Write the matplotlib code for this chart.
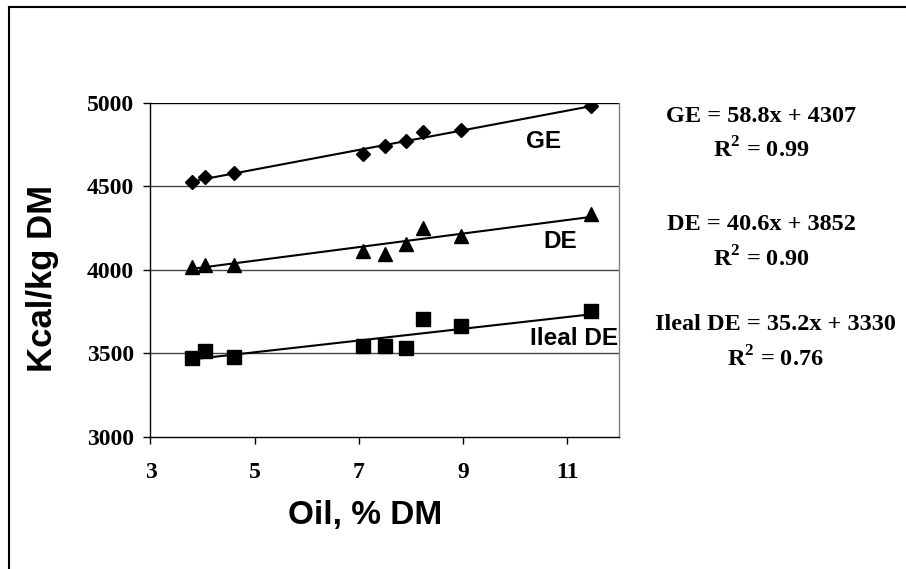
import matplotlib
matplotlib.use("Agg")
import matplotlib.pyplot as plt
from matplotlib.lines import Line2D
import numpy as np

plt.rcParams['mathtext.fontset'] = 'custom'
plt.rcParams['mathtext.bf'] = 'Liberation Serif:bold'
plt.rcParams['mathtext.rm'] = 'Liberation Serif:bold'

# ---- data ----
oil = [3.79, 4.05, 4.60, 7.08, 7.51, 7.90, 8.23, 8.96, 11.46]
ge = [4528, 4555, 4578, 4692, 4742, 4772, 4824, 4836, 4984]
de = [4019, 4029, 4029, 4113, 4093, 4153, 4249, 4205, 4335]
ileal_de = [3473, 3515, 3479, 3545, 3545, 3529, 3705, 3665, 3751]

series_names = ["GE", "DE", "Ileal DE"]
slopes = [58.8, 40.6, 35.2]
intercepts = [4307, 3852, 3330]
r2 = ["0.99", "0.90", "0.76"]

x_ticks = [3, 5, 7, 9, 11]
y_ticks = [3000, 3500, 4000, 4500, 5000]

fig = plt.figure(figsize=(9.06, 5.69), dpi=100)
ax = fig.add_axes([0.1661, 0.2325, 0.5171, 0.5865])

# grid lines
for yv in y_ticks[1:]:
    ax.axhline(yv, color='#000000' if yv == 5000 else '#444444', lw=1.0, zorder=1)

markers = ['D', '^', 's']
msizes = [6.8, 9.5, 9.5]
all_y = [ge, de, ileal_de]
xs = np.array([min(oil), max(oil)])
for ys, m, ms, k, b in zip(all_y, markers, msizes, slopes, intercepts):
    ax.plot(oil, ys, linestyle='none', marker=m, markersize=ms, color='black', zorder=3)
    ax.plot(xs, k * xs + b, color='black', lw=1.5, zorder=2)

ax.set_xlim(3, 12)
ax.set_ylim(3000, 5000)
ax.set_xticks(x_ticks)
ax.set_yticks(y_ticks)
ax.tick_params(axis='both', direction='out', length=5, width=1, color='black')
ax.tick_params(axis='y', pad=7)
ax.tick_params(axis='x', pad=13)
for lab in ax.get_xticklabels() + ax.get_yticklabels():
    lab.set_fontfamily('Liberation Serif')
    lab.set_fontweight('bold')
    lab.set_fontsize(17)

ax.spines['top'].set_visible(False)
ax.spines['right'].set_color('#808080')
ax.spines['left'].set_color('black')
ax.spines['bottom'].set_color('black')
for s in ax.spines.values():
    s.set_linewidth(1.0)

ax.set_xlabel("Oil, % DM", fontfamily='Liberation Sans', fontweight='bold', fontsize=24)
ax.xaxis.set_label_coords(0.458, -0.19)
ax.set_ylabel("Kcal/kg DM", fontfamily='Liberation Sans', fontweight='bold', fontsize=25, va='center')
ax.yaxis.set_label_coords(-0.2295, 0.4756)

# series labels inside the plot
label_pos = [(0.84, 0.885), (0.875, 0.585), (0.905, 0.295)]
for name, (lx, ly) in zip(series_names, label_pos):
    ax.text(lx, ly, name, transform=ax.transAxes, ha='center', va='center',
            fontfamily='Liberation Sans', fontweight='bold', fontsize=17.5)

# regression equations
eq_pos = [(761, 116, 150), (761, 225, 259), (775, 325, 359)]
for name, k, b, r, (ex, ey1, ey2) in zip(series_names, slopes, intercepts, r2, eq_pos):
    fig.text(ex / 906, 1 - ey1 / 569, f"{name} = {k}x + {b}", ha='center', va='center',
             fontfamily='Liberation Serif', fontweight='bold', fontsize=17.5)
    fig.text(ex / 906, 1 - ey2 / 569, r"R$^{\mathbf{2}}$ = " + r, ha='center', va='center',
             fontfamily='Liberation Serif', fontweight='bold', fontsize=17.5)

# outer frame lines (top and left)
fig.add_artist(Line2D([9.3 / 906, 1], [1 - 7.3 / 569, 1 - 7.3 / 569], color='black', lw=1.5,
                      transform=fig.transFigure))
fig.add_artist(Line2D([9.3 / 906, 9.3 / 906], [0, 1 - 7.3 / 569], color='black', lw=1.5,
                      transform=fig.transFigure))

fig.savefig("out.png", dpi=100)
